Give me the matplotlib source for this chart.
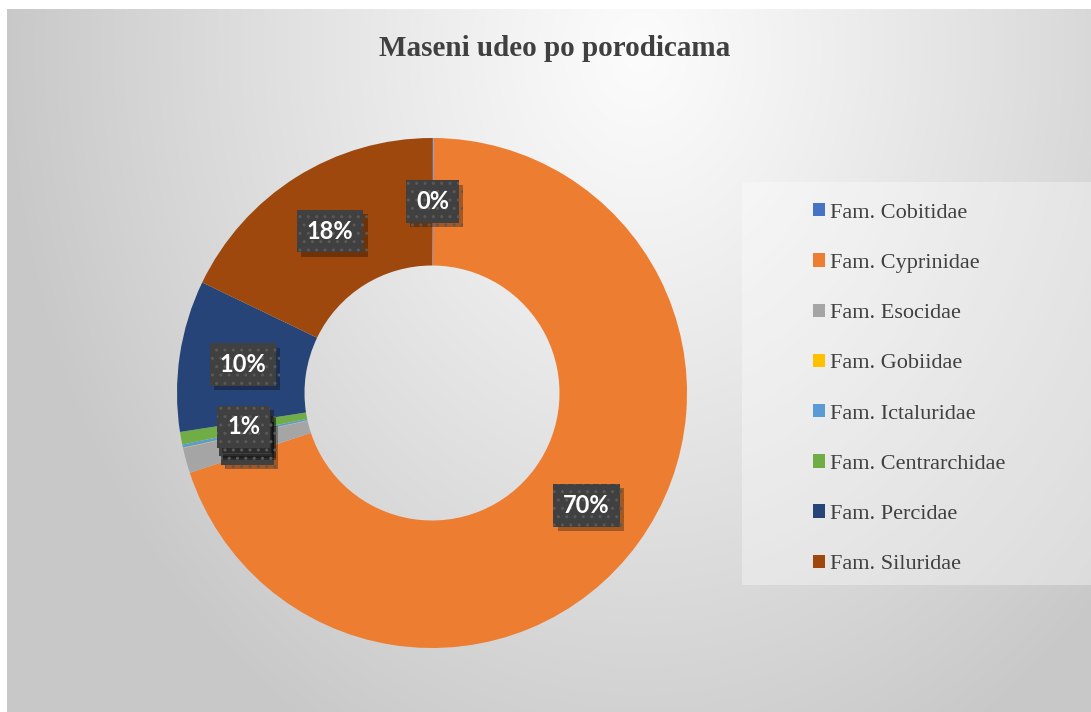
import matplotlib.pyplot as plt
import matplotlib.patheffects as pe
from matplotlib.patches import Patch, Rectangle
import numpy as np

families = ['Fam. Cobitidae', 'Fam. Cyprinidae', 'Fam. Esocidae', 'Fam. Gobiidae',
            'Fam. Ictaluridae', 'Fam. Centrarchidae', 'Fam. Percidae', 'Fam. Siluridae']
shares = [0.08, 70.0, 1.6, 0.03, 0.2, 0.8, 9.6, 17.9]
colors = ['#4472C4', '#ED7D31', '#A5A5A5', '#FFC000',
          '#5B9BD5', '#70AD47', '#264478', '#9E480E']
title = 'Maseni udeo po porodicama'

W, H = 1091, 712
fig = plt.figure(figsize=(W / 100, H / 100), dpi=100)
fig.patch.set_facecolor('white')

# background gradient of the chart area (starts at x=7, y=9 px)
bg = fig.add_axes([7 / W, 0, 1 - 7 / W, (H - 9) / H], zorder=-10)
yy, xx = np.mgrid[9:H, 7:W]
d = np.sqrt(((xx - 640) / 640.0) ** 2 + ((yy - 50) / 800.0) ** 2)
t = np.clip(d, 0, 1) ** 1.1
grey = (252 - 52 * t) / 255.0
bg.imshow(np.dstack([grey, grey, grey]), aspect='auto', interpolation='bilinear')
bg.set_axis_off()

# legend background
fig.patches.append(Rectangle((742 / W, 1 - 585 / H), (W - 742) / W, (585 - 182) / H,
                             transform=fig.transFigure, facecolor='white', alpha=0.35,
                             edgecolor='none', zorder=-5))

# donut: centre (432, 393) px, outer radius 255 px
cx, cy, R = 432, 393, 255
half = 265
ax = fig.add_axes([(cx - half) / W, (H - cy - half) / H, 2 * half / W, 2 * half / H])

wedges, _, autotexts = ax.pie(shares, colors=colors, startangle=90, counterclock=False,
                              radius=1.0, wedgeprops=dict(width=0.5, linewidth=0),
                              autopct=lambda p: f'{p:.0f}%', pctdistance=0.75)
ax.set_xlim(-half / R, half / R)
ax.set_ylim(-half / R, half / R)
ax.set_axis_off()

for i, txt in enumerate(autotexts):
    txt.set_fontfamily('Lato')
    txt.set_fontweight('bold')
    txt.set_fontsize(17)
    txt.set_color('white')
    txt.set_zorder(10 + i)
    txt.set_bbox(dict(boxstyle='square,pad=0.42', facecolor='#404040',
                      edgecolor='#595959', linewidth=0, hatch='..'))
    txt.get_bbox_patch().set_path_effects([
        pe.SimplePatchShadow(offset=(3, -3), shadow_rgbFace='black', alpha=0.3),
        pe.Normal()])
# Centrarchidae label sits on top of the small-slice stack
autotexts[5].set_zorder(30)

fig.text(555 / W, 1 - 48 / H, title, ha='center', va='center',
         fontfamily='Liberation Serif', fontweight='bold', fontsize=21, color='#404040')

handles = [Patch(facecolor=c, edgecolor='none') for c in colors]
fig.legend(handles, families, loc='upper left', bbox_to_anchor=(802 / W, 1 - 192 / H),
           frameon=False, prop=dict(family='Liberation Serif', size=16),
           labelcolor='#404040', handlelength=0.55, handleheight=0.55,
           handletextpad=0.2, labelspacing=1.38, borderpad=0)

fig.savefig('out.png', dpi=100)
